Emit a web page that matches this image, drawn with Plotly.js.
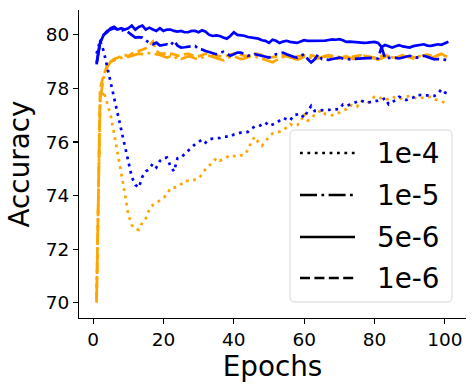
<!DOCTYPE html>
<html><head><meta charset="utf-8">
<script src="https://cdn.plot.ly/plotly-3.0.1.min.js"></script>
<style>html,body{margin:0;padding:0;background:#fff}</style>
</head><body><div id="chart" style="width:475px;height:390px"></div>
<script>
// epochs 1..101
const epochs = Array.from({length: 101}, (_, i) => i + 1);

const blueSolid = [
78.9, 79.7, 80.0, 80.1, 80.25, 80.3, 80.2, 80.25, 80.2, 80.25,
80.35, 80.2, 80.3, 80.35, 80.2, 80.27, 80.2, 80.15, 80.25, 80.15,
80.2, 80.2, 80.15, 80.12, 80.15, 80.1, 80.1, 80.15, 80.15, 80.1,
80.17, 80.12, 80.0, 79.96, 79.98, 79.96, 79.9, 79.86, 79.96, 80.1,
80.0, 79.98, 79.97, 79.92, 79.9, 79.88, 79.86, 79.8, 79.78, 79.7,
79.82, 79.78, 79.7, 79.75, 79.78, 79.74, 79.72, 79.7, 79.75, 79.8,
79.78, 79.78, 79.8, 79.78, 79.8, 79.79, 79.81, 79.83, 79.82, 79.84,
79.8, 79.74, 79.75, 79.74, 79.72, 79.7, 79.7, 79.71, 79.72, 79.74,
79.7, 79.55, 79.62, 79.58, 79.53, 79.58, 79.62, 79.57, 79.55, 79.53,
79.58, 79.6, 79.62, 79.65, 79.6, 79.59, 79.62, 79.65, 79.63, 79.68, 79.74];

const blueDashDot = [
78.95, 79.75, 80.0, 80.15, 80.2, 80.25, 80.2, 80.15, 80.2, 80.1,
80.0, 79.9, 79.92, 79.9, 79.8, 79.7, 79.65, 79.71, 79.6, 79.62,
79.65, 79.6, 79.78, 79.6, 79.53, 79.54, 79.55, 79.57, 79.59, 79.47,
79.45, 79.4, 79.36, 79.34, 79.28, 79.32, 79.37, 79.3, 79.22, 79.28,
79.34, 79.34, 79.28, 79.22, 79.25, 79.28, 79.25, 79.22, 79.18, 79.15,
79.22, 79.28, 79.3, 79.34, 79.28, 79.22, 79.18, 79.15, 79.22, 79.28,
79.1, 78.97, 79.09, 79.28, 79.1, 79.08, 79.07, 79.1, 79.13, 79.15,
79.12, 79.1, 79.09, 79.1, 79.11, 79.12, 79.14, 79.15, 79.14, 79.12,
79.12, 79.55, 79.12, 79.14, 79.15, 79.14, 79.12, 79.16, 79.2, 79.22,
79.18, 79.15, 79.18, 79.22, 79.18, 79.12, 79.09, 79.1, 79.09, 79.07, 79.06];

const blueDotted = [
79.3, 79.8, 79.4, 78.8, 78.3, 77.6, 77.0, 76.4, 75.9, 75.3,
74.7, 74.4, 74.3, 74.7, 74.9, 75.0, 75.2, 75.05, 75.3, 75.4,
75.42, 75.1, 74.9, 75.4, 75.42, 75.55, 75.68, 75.8, 75.92, 76.0,
76.1, 75.98, 76.1, 76.13, 76.13, 76.15, 76.2, 76.2, 76.2, 76.28,
76.33, 76.35, 76.36, 76.38, 76.5, 76.58, 76.58, 76.65, 76.73, 76.6,
76.65, 76.7, 76.8, 76.9, 76.85, 76.8, 77.0, 77.04, 77.06, 76.9,
77.16, 77.35, 77.16, 77.17, 77.19, 77.2, 77.2, 77.2, 77.22, 77.23,
77.4, 77.35, 77.4, 77.47, 77.52, 77.56, 77.5, 77.47, 77.5, 77.54,
77.54, 77.56, 77.64, 77.41, 77.5, 77.56, 77.69, 77.62, 77.57, 77.62,
77.66, 77.76, 77.76, 77.76, 77.74, 77.72, 77.72, 77.8, 77.97, 77.85, 77.8];

const orangeDotted = [
70.3, 77.5, 77.9, 77.4, 77.0, 76.3, 75.6, 74.8, 74.1, 73.3,
72.9, 72.75, 72.72, 73.0, 73.15, 73.5, 73.65, 73.74, 73.82, 73.9,
74.05, 74.28, 74.3, 74.33, 74.42, 74.55, 74.55, 74.55, 74.6, 74.64,
74.8, 75.0, 75.12, 75.24, 75.4, 75.3, 75.36, 75.45, 75.51, 75.48,
75.45, 75.5, 75.52, 75.7, 76.02, 76.2, 75.98, 75.86, 76.05, 76.2,
76.32, 76.36, 76.39, 76.42, 76.55, 76.67, 76.6, 76.63, 76.75, 77.08,
76.8, 76.85, 77.04, 77.12, 77.19, 77.04, 77.02, 77.0, 77.06, 77.1,
77.18, 77.23, 77.38, 77.35, 77.31, 77.54, 77.5, 77.44, 77.6, 77.69,
77.69, 77.62, 77.56, 77.62, 77.69, 77.65, 77.6, 77.66, 77.7, 77.72,
77.68, 77.62, 77.64, 77.66, 77.68, 77.69, 77.6, 77.56, 77.5, 77.47, 77.45];

const orangeDashed = [
70.0, 78.0, 78.5, 78.85, 79.0, 79.1, 79.15, 79.2, 79.25, 79.2,
79.3, 79.35, 79.4, 79.45, 79.5, 79.6, 79.75, 79.4, 79.3, 79.3,
79.32, 79.3, 79.28, 79.22, 79.25, 79.28, 79.3, 79.25, 79.22, 79.2,
79.25, 79.3, 79.28, 79.25, 79.22, 79.2, 79.18, 79.22, 79.25, 79.3,
79.28, 79.25, 79.22, 79.2, 79.25, 79.3, 79.28, 79.24, 79.2, 79.16,
79.17, 79.2, 79.22, 79.24, 79.2, 79.17, 79.15, 79.19, 79.22, 79.24,
79.25, 79.24, 79.2, 79.17, 79.15, 79.19, 79.24, 79.22, 79.2, 79.17,
79.15, 79.13, 79.17, 79.2, 79.22, 79.24, 79.22, 79.2, 79.17, 79.15,
79.19, 79.22, 79.24, 79.2, 79.17, 79.15, 79.19, 79.24, 79.22, 79.2,
79.17, 79.15, 79.19, 79.24, 79.26, 79.22, 79.2, 79.24, 79.3, 79.22, 79.18];

const orangeDashDot = [
70.1, 77.6, 78.4, 78.8, 79.0, 79.05, 79.1, 79.15, 79.2, 79.18,
79.22, 79.25, 79.3, 79.28, 79.3, 79.32, 79.3, 79.28, 79.25, 79.2,
79.15, 79.2, 79.12, 79.18, 79.1, 79.15, 79.2, 79.18, 79.12, 79.1,
79.15, 79.2, 79.22, 79.18, 79.15, 79.1, 79.05, 79.12, 79.18, 79.2,
79.15, 79.1, 79.12, 79.18, 79.22, 79.2, 79.15, 79.1, 79.05, 79.0,
78.98, 79.05, 79.12, 79.18, 79.2, 79.15, 79.1, 79.08, 79.12, 79.18,
79.2, 79.15, 79.1, 79.12, 79.18, 79.22, 79.2, 79.15, 79.1, 79.12,
79.18, 79.2, 79.15, 79.1, 79.12, 79.18, 79.22, 79.2, 79.15, 79.1,
79.08, 79.12, 79.18, 79.2, 79.15, 79.12, 79.18, 79.22, 79.2, 79.15,
79.12, 79.18, 79.22, 79.25, 79.2, 79.15, 79.18, 79.25, 79.3, 79.22, 79.15];

const legendLabels = ['1e-4', '1e-5', '5e-6', '1e-6'];
const xTicks = [0, 20, 40, 60, 80, 100];
const yTicks = [70, 72, 74, 76, 78, 80];

const LW = 2.7;
const DASH = {
  dotted: '2.8px,4.6px',
  dashdot: '17px,4.4px,2.8px,4.4px',
  solid: 'solid',
  dashed: '10px,4.4px'
};
const legendDashes = [DASH.dotted, DASH.dashdot, DASH.solid, DASH.dashed];

function tr(y, color, dash) {
  return {x: epochs, y: y, type: 'scatter', mode: 'lines', showlegend: false,
          hoverinfo: 'skip', line: {color: color, width: LW, dash: dash}};
}

const data = [
  tr(orangeDotted, 'orange', DASH.dotted),
  tr(orangeDashDot, 'orange', DASH.dashdot),
  tr(orangeDashed, 'orange', DASH.dashed),
  tr(blueDotted, 'blue', DASH.dotted),
  tr(blueDashDot, 'blue', DASH.dashdot),
  tr(blueSolid, 'blue', DASH.solid)
];

// plot area in pixels
const L = 79, R = 466, T = 10, B = 318, W = 475, H = 390;
const px = v => (v - L) / (R - L);
const py = v => (B - v) / (B - T);

// legend box (rounded)
const bx0 = 290, bx1 = 452, by0 = 130, by1 = 302, rr = 5;
function roundRect(x0, y0, x1, y1, r) {
  const p = (x, y) => px(x).toFixed(5) + ',' + py(y).toFixed(5);
  return 'M' + p(x0 + r, y0) + ' L' + p(x1 - r, y0) + ' Q' + p(x1, y0) + ' ' + p(x1, y0 + r) +
    ' L' + p(x1, y1 - r) + ' Q' + p(x1, y1) + ' ' + p(x1 - r, y1) +
    ' L' + p(x0 + r, y1) + ' Q' + p(x0, y1) + ' ' + p(x0, y1 - r) +
    ' L' + p(x0, y0 + r) + ' Q' + p(x0, y0) + ' ' + p(x0 + r, y0) + ' Z';
}
const shapes = [{
  type: 'path', xref: 'paper', yref: 'paper', path: roundRect(bx0, by0, bx1, by1, rr),
  fillcolor: 'rgba(255,255,255,0.8)', line: {color: 'rgba(204,204,204,0.8)', width: 1}, layer: 'above'
}];
const annotations = [];
const rowY = [153, 195, 237, 278];
legendLabels.forEach((lab, i) => {
  shapes.push({type: 'line', xref: 'paper', yref: 'paper',
    x0: px(300), x1: px(355), y0: py(rowY[i]), y1: py(rowY[i]),
    line: {color: 'black', width: LW, dash: legendDashes[i]}, layer: 'above'});
  annotations.push({xref: 'paper', yref: 'paper', x: px(375), y: py(rowY[i]),
    xanchor: 'left', yanchor: 'middle', text: lab, showarrow: false,
    font: {family: 'DejaVu Sans', size: 27.8, color: 'black'}});
});

const layout = {
  width: W, height: H,
  margin: {l: L, r: W - R, t: T, b: H - B, pad: 0},
  paper_bgcolor: 'white', plot_bgcolor: 'white',
  font: {family: 'DejaVu Sans', color: 'black'},
  showlegend: false,
  xaxis: {
    range: [-4, 106], tickvals: xTicks, ticks: 'outside', ticklen: 5, tickwidth: 1.1,
    tickcolor: 'black', showline: true, linecolor: 'black', linewidth: 1.1, mirror: false,
    showgrid: false, zeroline: false, tickfont: {size: 18.5, family: 'DejaVu Sans'},
    title: {text: 'Epochs', font: {size: 27.8, family: 'DejaVu Sans'}, standoff: 5},
    automargin: false
  },
  yaxis: {
    range: [69.43, 80.93], tickvals: yTicks, ticks: 'outside', ticklen: 5, tickwidth: 1.1,
    tickcolor: 'black', showline: true, linecolor: 'black', linewidth: 1.1, mirror: false,
    showgrid: false, zeroline: false, tickfont: {size: 18.5, family: 'DejaVu Sans'},
    title: {text: 'Accuracy', font: {size: 27.8, family: 'DejaVu Sans'}, standoff: 7},
    automargin: false
  },
  shapes: shapes,
  annotations: annotations
};

Plotly.newPlot('chart', data, layout, {staticPlot: true, displayModeBar: false});
</script></body></html>
